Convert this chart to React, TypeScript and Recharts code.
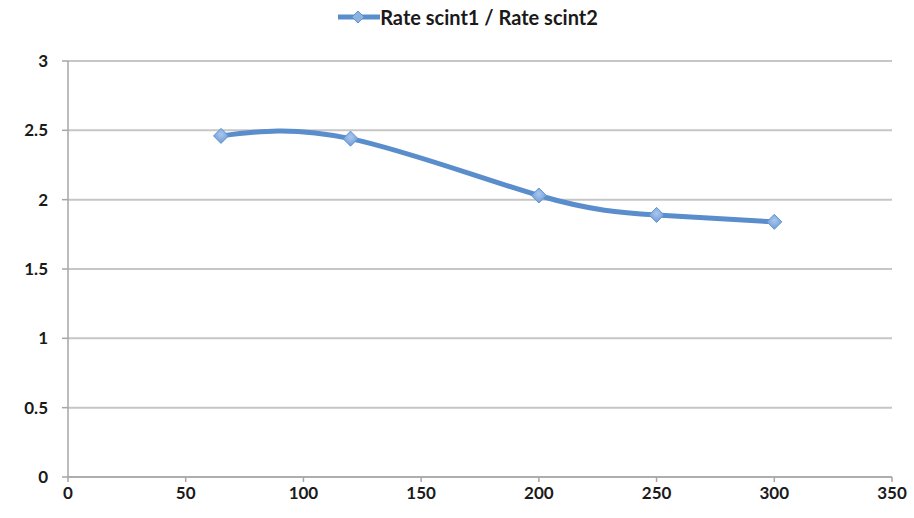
import React from "react";
import { CartesianGrid, Legend, Line, LineChart, XAxis, YAxis } from "recharts";

const energies = [65, 120, 200, 250, 300];
const ratios = [2.46, 2.44, 2.03, 1.89, 1.84];
const xTicks = [0, 50, 100, 150, 200, 250, 300, 350];
const yTicks = [0, 0.5, 1, 1.5, 2, 2.5, 3];
const seriesName = "Rate scint1 / Rate scint2";

const lineColor = "#5A8DCB";
const font = "Lato, 'Open Sans', sans-serif";

const chartData = energies.map((e, i) => ({ x: e, ratio: ratios[i] }));

const Diamond = (props: any) => {
  const { cx, cy } = props;
  if (cx == null || cy == null) return null;
  const r = 7.5;
  return (
    <path
      d={`M${cx},${cy - r} L${cx + r},${cy} L${cx},${cy + r} L${cx - r},${cy} Z`}
      fill="url(#diamondFill)"
      stroke="#5F93D0"
      strokeWidth={1}
    />
  );
};

const LegendBox = () => (
  <div style={{ height: 61, display: "flex", justifyContent: "center" }}>
    <div style={{ display: "flex", alignItems: "center", height: 34, marginLeft: 44 }}>
      <svg width={42} height={16}>
        <line x1={0} y1={8} x2={42} y2={8} stroke={lineColor} strokeWidth={5} />
        <path d="M20,2 L26,8 L20,14 L14,8 Z" fill="#8CB2E2" stroke="#5F93D0" strokeWidth={1} />
      </svg>
      <span style={{ fontFamily: font, fontWeight: 700, fontSize: 20, color: "#1a1a1a" }}>
        {seriesName}
      </span>
    </div>
  </div>
);

export default function App() {
  return (
    <div style={{ position: "absolute", left: 0, top: 0 }}>
      <LineChart
        width={914}
        height={518}
        data={chartData}
        margin={{ top: 0, right: 22, bottom: 0, left: 0 }}
      >
        <defs>
          <radialGradient id="diamondFill" cx="50%" cy="40%" r="60%">
            <stop offset="0%" stopColor="#A9C7EE" />
            <stop offset="100%" stopColor="#6E9BD6" />
          </radialGradient>
        </defs>
        <CartesianGrid vertical={false} stroke="#C6C6C6" strokeWidth={2} />
        <XAxis
          dataKey="x"
          type="number"
          domain={[0, 350]}
          ticks={xTicks}
          height={41}
          tickSize={5}
          tickMargin={5}
          stroke="#A6A6A6"
          strokeWidth={1.5}
          tick={{ fill: "#1a1a1a", fontFamily: font, fontWeight: 700, fontSize: 17 }}
        />
        <YAxis
          type="number"
          domain={[0, 3]}
          ticks={yTicks}
          width={68}
          tickSize={6}
          tickMargin={14}
          stroke="#A6A6A6"
          strokeWidth={1.5}
          tick={{ fill: "#1a1a1a", fontFamily: font, fontWeight: 700, fontSize: 17 }}
        />
        <Legend verticalAlign="top" align="center" content={<LegendBox />} />
        <Line
          type="natural"
          dataKey="ratio"
          name={seriesName}
          stroke={lineColor}
          strokeWidth={5}
          dot={<Diamond />}
          activeDot={false}
          isAnimationActive={false}
        />
      </LineChart>
    </div>
  );
}
